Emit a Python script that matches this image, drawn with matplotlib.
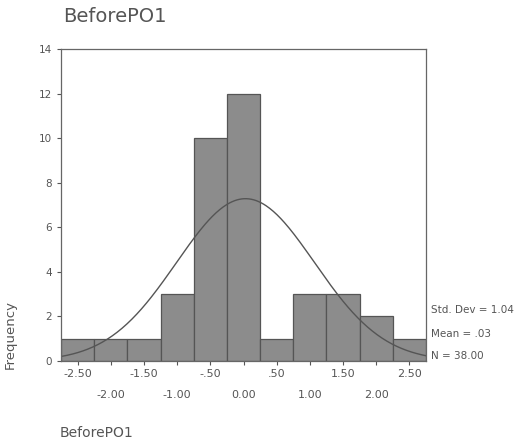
import numpy as np
import matplotlib
matplotlib.use("Agg")
import matplotlib.pyplot as plt

# histogram of BeforePO1 (SPSS style)
bin_centers = [-2.5, -2.0, -1.5, -1.0, -0.5, 0.0, 0.5, 1.0, 1.5, 2.0, 2.5]
counts = [1, 1, 1, 3, 10, 12, 1, 3, 3, 2, 1]
std_dev = 1.04
mean = 0.03
n = 38
bin_width = 0.5
tick_labels = ["-2.50", "-2.00", "-1.50", "-1.00", "-.50", "0.00", ".50", "1.00", "1.50", "2.00", "2.50"]

txt = "#555555"
fig = plt.figure(figsize=(5.17, 4.43), dpi=100)
ax = fig.add_axes([0.118, 0.185, 0.706, 0.704])

ax.bar(bin_centers, counts, width=bin_width, color="#8c8c8c", edgecolor="#555555", linewidth=0.9)

# normal curve from the reported stats
xs = np.linspace(-2.75, 2.75, 300)
ys = n * bin_width / (std_dev * np.sqrt(2 * np.pi)) * np.exp(-0.5 * ((xs - mean) / std_dev) ** 2)
ax.plot(xs, ys, color="#555555", linewidth=1.0)

ax.set_xlim(-2.75, 2.75)
ax.set_ylim(0, 14)
ax.set_yticks(range(0, 15, 2))
# alternate labels on two rows: upper row as major, lower row as minor ticks
ax.set_xticks(bin_centers[0::2])
ax.set_xticklabels(tick_labels[0::2])
ax.set_xticks(bin_centers[1::2], minor=True)
ax.set_xticklabels(tick_labels[1::2], minor=True)
ax.tick_params(axis="both", which="both", colors=txt, labelsize=8, length=3, width=0.8)
ax.tick_params(axis="y", labelsize=7.5)
ax.tick_params(axis="x", which="major", pad=3)
ax.tick_params(axis="x", which="minor", pad=18)
for s in ax.spines.values():
    s.set_color("#666666")
    s.set_linewidth(0.9)

fig.text(0.122, 0.962, "BeforePO1", fontsize=14, color=txt, ha="left", va="center")
fig.text(0.02, 0.245, "Frequency", fontsize=9.5, color=txt, rotation=90, ha="center", va="center")
fig.text(0.116, 0.022, "BeforePO1", fontsize=10, color=txt, ha="left", va="center")

fig.text(0.834, 0.30, "Std. Dev = %.2f" % std_dev, fontsize=7.5, color=txt, va="center")
fig.text(0.834, 0.247, "Mean = .03", fontsize=7.5, color=txt, va="center")
fig.text(0.834, 0.197, "N = %.2f" % n, fontsize=7.5, color=txt, va="center")

plt.savefig("out.png", dpi=100)
